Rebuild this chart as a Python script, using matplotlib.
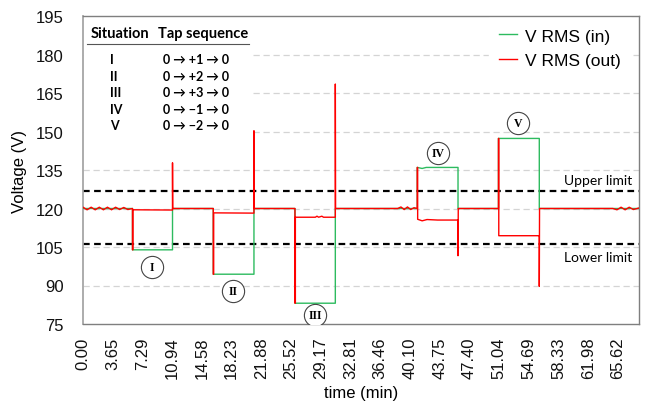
import matplotlib
matplotlib.use("Agg")
import matplotlib.pyplot as plt
from matplotlib.patches import Rectangle

# ---------------- data ----------------
x_tick_pos = [0.0, 3.6458, 7.2917, 10.9375, 14.5833, 18.2292, 21.875, 25.5208, 29.1667,
              32.8125, 36.4583, 40.1042, 43.75, 47.3958, 51.0417, 54.6875, 58.3333,
              61.9792, 65.625]
x_tick_labels = ["0.00", "3.65", "7.29", "10.94", "14.58", "18.23", "21.88", "25.52",
                 "29.17", "32.81", "36.46", "40.10", "43.75", "47.40", "51.04", "54.69",
                 "58.33", "61.98", "65.62"]
y_ticks = [75, 90, 105, 120, 135, 150, 165, 180, 195]

vin_t = [0, 6.07, 6.07, 10.98, 10.98, 15.98, 15.98, 20.97, 20.97, 26.0, 26.0, 30.95,
         30.95, 41.0, 41.0, 41.6, 42.1, 46.0, 46.0, 50.96, 50.96, 55.97, 55.97, 68.2]
vin_v = [120, 120, 103.9, 103.9, 120, 120, 94.4, 94.4, 120, 120, 83.1, 83.1,
         120, 120, 136.0, 135.6, 136.0, 136.0, 120, 120, 147.3, 147.3, 120, 120]

vout_t = [0.0, 0.5, 1.0, 1.5, 2.0, 2.5, 3.0, 3.5, 4.0, 4.5, 5.0, 5.5, 6.07,
          6.07, 6.12, 6.12, 10.98, 10.98, 11.0, 15.98,
          15.98, 16.03, 16.03, 20.97, 20.97, 21.0, 26.0,
          26.0, 26.05, 26.05, 28.5, 28.7, 28.9, 29.3, 29.5, 30.95, 30.95, 30.98,
          38.6, 39.0, 39.4, 39.8, 40.2, 40.6, 41.0,
          41.0, 41.05, 41.05, 41.6, 42.2, 43.5, 46.0, 46.0, 46.03,
          50.96, 50.96, 51.0, 51.0, 55.97, 55.97, 56.0,
          65.0, 65.5, 66.0, 66.5, 67.0, 67.5, 68.2]
vout_v = [120.5, 119.5, 120.5, 119.5, 120.5, 119.5, 120.5, 119.5, 120.5, 119.6, 120.4, 119.6, 120.0,
          103.9, 103.9, 119.5, 119.4, 137.8, 120.0, 120.0,
          94.4, 94.4, 118.3, 118.2, 150.3, 120.0, 120.0,
          83.1, 83.1, 116.6, 116.6, 117.0, 116.6, 117.0, 116.6, 116.6, 168.5, 120.0,
          120.0, 120.6, 119.6, 120.6, 119.6, 120.3, 120.0,
          136.0, 136.0, 115.8, 115.2, 115.7, 115.5, 115.5, 101.6, 120.0,
          120.0, 147.3, 147.3, 109.4, 109.4, 89.7, 120.0,
          120.0, 119.5, 120.5, 119.5, 120.5, 119.6, 120.2]

upper_limit = 127
lower_limit = 106

situations = ["I", "II", "III", "IV", "V"]
sequences = ["0 \u2192 +1 \u2192 0", "0 \u2192 +2 \u2192 0", "0 \u2192 +3 \u2192 0",
             "0 \u2192 \u22121 \u2192 0", "0 \u2192 \u22122 \u2192 0"]
circle_t = [8.47, 18.4, 28.5, 43.5, 53.4]
circle_v = [97.3, 87.7, 78.5, 141.5, 153.2]

# ---------------- figure ----------------
W, H = 646, 402
fig = plt.figure(figsize=(W / 100, H / 100), dpi=100)
L, R, T, B = 83, 639, 17, 325
ax = fig.add_axes([L / W, 1 - B / H, (R - L) / W, (B - T) / H])

xmax = 68.2
ax.set_xlim(0, xmax)
ax.set_ylim(75, 195)

green = "#2dbb5f"
red = "#ff0000"

ax.set_yticks(y_ticks)
for yv in y_ticks[1:-1]:
    ax.axhline(yv, color="#d4d4d4", lw=0.9, ls=(0, (5, 3)), zorder=0)

ax.axhline(upper_limit, color="black", lw=1.6, ls=(0, (3, 2)), zorder=2)
ax.axhline(lower_limit, color="black", lw=1.6, ls=(0, (3, 2)), zorder=2)

ax.plot(vin_t, vin_v, color=green, lw=1.0, label="V RMS (in)", zorder=3)
ax.plot(vout_t, vout_v, color=red, lw=1.0, label="V RMS (out)", zorder=4)

ax.set_xticks(x_tick_pos)
ax.set_xticklabels(x_tick_labels, rotation=90)
ax.tick_params(axis="both", length=0, labelsize=12, colors="#111111")
ax.tick_params(axis="y", pad=14)
ax.tick_params(axis="x", pad=9)
for lab in ax.get_xticklabels() + ax.get_yticklabels():
    lab.set_fontfamily("Liberation Sans")

for s in ["top", "right", "bottom"]:
    ax.spines[s].set_color("#7f7f7f")
    ax.spines[s].set_linewidth(1.0)
ax.spines["left"].set_color("#a6a6a6")
ax.spines["left"].set_linewidth(1.3)

ax.set_xlabel("time (min)", fontsize=12, family="Liberation Sans", labelpad=5)
ax.set_ylabel("Voltage (V)", fontsize=12, family="Liberation Sans", labelpad=6)

# legend
leg = ax.legend(loc="upper left", bbox_to_anchor=((489 - L) / (R - L), 1 - (19 - T) / (B - T)),
                prop={"family": "Liberation Sans", "size": 12.5}, frameon=True,
                fancybox=False, framealpha=1, edgecolor="white", facecolor="white",
                handlelength=1.0, handletextpad=0.45, labelspacing=0.55, borderpad=0.6,
                borderaxespad=0)
leg.set_zorder(5)

# table area (white box)
def px2data(px, py):
    return (px - L) / (R - L) * xmax, 195 - (py - T) / (B - T) * 120

x0, y0 = px2data(84, 18)
x1, y1 = px2data(251, 138)
ax.add_patch(Rectangle((x0, y1), x1 - x0, y0 - y1, facecolor="white", edgecolor="none", zorder=1))

tfam = ["Lato", "DejaVu Sans"]
hx, hy = px2data(91, 34)
ax.text(hx, hy, "Situation", fontsize=10.5, fontweight="bold", family=tfam,
        ha="left", va="center", zorder=6)
hx2, _ = px2data(158, 34)
ax.text(hx2, hy, "Tap sequence", fontsize=10.5, fontweight="bold", family=tfam,
        ha="left", va="center", zorder=6)
lx0, ly = px2data(87, 45)
lx1, _ = px2data(249, 45)
ax.plot([lx0, lx1], [ly, ly], color="#555555", lw=0.8, zorder=6)
row_y = [60, 76.5, 93, 109.5, 126]
for s, q, ry in zip(situations, sequences, row_y):
    sx, sy = px2data(110, ry)
    qx, _ = px2data(163, ry)
    ax.text(sx, sy, s, fontsize=9, fontweight="bold", family=tfam, ha="left", va="center", zorder=6)
    ax.text(qx, sy, q, fontsize=9, fontweight="bold", family=tfam, ha="left", va="center", zorder=6)

# limit labels
ux, uy = px2data(632, 181)
ax.text(ux, uy, "Upper limit", fontsize=10, family=tfam, ha="right", va="center", zorder=6)
lx, lyy = px2data(632, 258)
ax.text(lx, lyy, "Lower limit", fontsize=10, family=tfam, ha="right", va="center", zorder=6)

# circled labels
ax.plot(circle_t, circle_v, "o", ms=16, mfc="white", mec="#444444", mew=0.8, zorder=6, ls="none")
for s, ct, cv in zip(situations, circle_t, circle_v):
    ax.text(ct, cv, s, fontsize=8.5, fontweight="bold", family="Liberation Serif",
            ha="center", va="center", zorder=7)

fig.savefig("out.png", dpi=100)
